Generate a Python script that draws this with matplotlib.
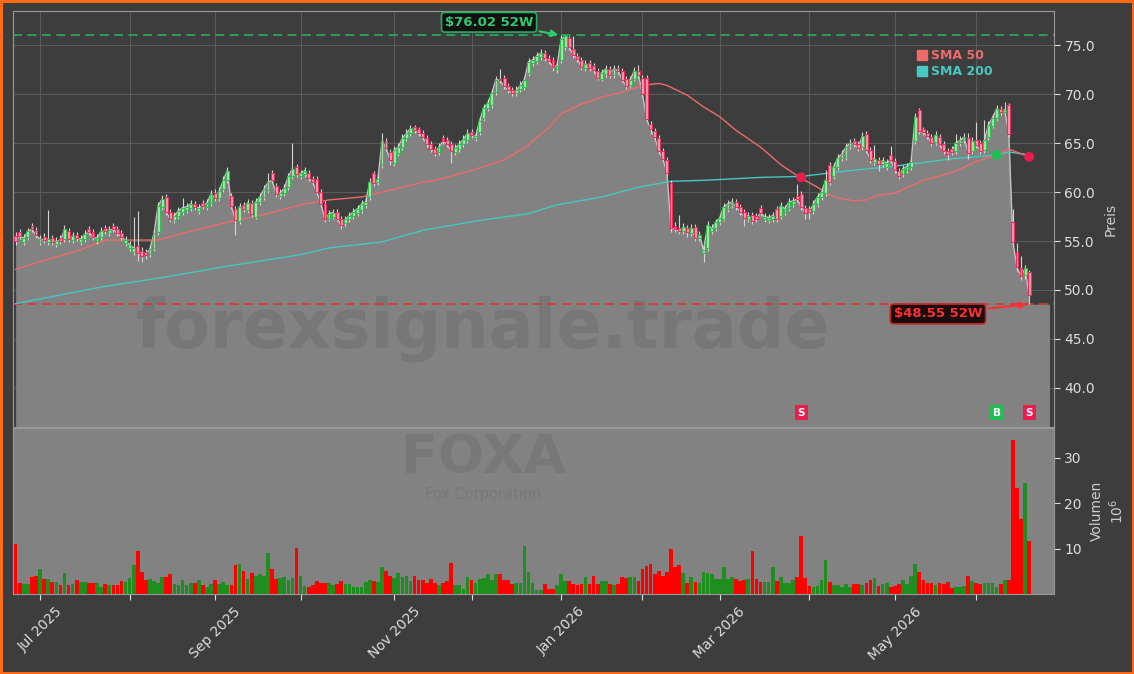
import numpy as np
import pandas as pd
import matplotlib
matplotlib.use("Agg")
import matplotlib.pyplot as plt
from matplotlib.lines import Line2D

# FOXA daily candles, Jun 23 2025 .. Jun 18 2026
closes = [
    55.0, 55.5, 55.3, 56.0, 56.2, 55.6, 55.2, 55.1, 55.2, 54.9,
    55.0, 55.0, 56.2, 55.2, 55.5, 55.3, 55.2, 55.7, 55.9, 55.4,
    55.3, 56.0, 56.0, 56.1, 56.2, 55.8, 55.4, 55.1, 54.6, 54.3,
    53.8, 53.5, 53.6, 54.2, 55.8, 58.6, 59.3, 58.0, 57.2, 57.6,
    58.1, 58.4, 58.5, 58.8, 58.5, 58.4, 58.6, 58.9, 59.8, 59.4,
    60.1, 61.2, 62.2, 58.6, 57.1, 58.5, 58.3, 58.9, 57.8, 59.0,
    59.5, 60.3, 61.0, 61.2, 59.8, 59.9, 60.4, 61.6, 62.4, 61.8,
    61.9, 62.2, 61.4, 61.0, 60.0, 58.8, 57.2, 57.8, 57.9, 57.3,
    56.6, 57.2, 57.6, 58.0, 58.3, 58.8, 59.0, 61.0, 60.9, 61.3,
    65.2, 64.5, 63.3, 64.3, 64.6, 65.5, 66.0, 66.5, 66.3, 66.0,
    65.6, 64.9, 64.4, 64.0, 64.6, 65.2, 64.9, 64.2, 64.5, 64.9,
    65.4, 66.0, 65.8, 65.7, 67.3, 68.6, 69.1, 70.1, 71.5, 71.4,
    70.8, 70.4, 70.1, 70.4, 70.9, 71.5, 73.3, 73.5, 73.9, 74.2,
    73.7, 73.4, 72.8, 72.9, 75.6, 75.9, 74.8, 74.0, 73.6, 72.8,
    73.1, 72.7, 72.5, 71.7, 72.2, 72.6, 72.0, 72.6, 72.4, 71.5,
    70.8, 71.5, 72.4, 72.0, 70.0, 67.5, 66.4, 65.6, 64.2, 63.4,
    62.0, 56.3, 56.2, 56.0, 56.4, 55.9, 56.3, 55.3, 55.6, 54.1,
    56.6, 56.3, 56.9, 57.4, 58.5, 58.8, 59.0, 58.5, 58.0, 57.4,
    57.6, 57.0, 57.2, 57.9, 57.5, 57.4, 57.6, 57.2, 58.6, 58.3,
    59.0, 59.1, 59.3, 58.5, 57.9, 58.0, 58.8, 59.5, 60.0, 61.2,
    61.0, 62.6, 63.5, 63.9, 64.6, 65.0, 64.9, 64.5, 65.7, 64.3,
    63.3, 63.4, 62.9, 63.2, 63.0, 63.3, 62.3, 61.6, 62.4, 62.6,
    63.1, 67.7, 66.2, 66.1, 65.7, 65.0, 65.8, 64.9, 64.2, 63.9,
    64.1, 65.0, 65.3, 65.6, 64.0, 65.2, 64.8, 64.2, 65.3, 66.9,
    67.6, 68.5, 68.2, 68.4, 65.9, 54.9, 52.3, 51.4, 52.2, 49.5,
]
opens = [
    55.5, 55.9, 54.9, 55.4, 56.5, 56.1, 54.9, 55.4, 54.9, 55.3,
    54.7, 55.3, 55.2, 56.0, 55.1, 55.6, 54.9, 55.2, 56.2, 55.9,
    55.0, 55.4, 56.3, 55.8, 56.5, 56.2, 55.8, 54.8, 54.3, 53.9,
    54.5, 54.0, 53.9, 53.7, 54.3, 55.9, 58.5, 59.5, 58.0, 57.1,
    57.6, 58.0, 58.2, 58.4, 58.8, 58.1, 58.9, 58.5, 58.9, 59.9,
    59.4, 60.3, 61.2, 59.6, 58.3, 57.0, 58.7, 58.2, 58.9, 57.5,
    59.0, 59.5, 60.2, 62.0, 60.6, 59.6, 59.9, 60.5, 61.6, 62.6,
    61.6, 61.8, 62.0, 61.3, 61.3, 60.0, 58.8, 57.3, 57.5, 58.0,
    57.3, 56.8, 57.2, 57.6, 57.9, 58.2, 58.7, 59.5, 61.9, 61.0,
    62.8, 65.2, 64.1, 63.0, 64.0, 64.6, 65.5, 66.0, 66.6, 66.4,
    66.0, 65.5, 64.9, 64.4, 64.1, 65.5, 65.3, 64.9, 64.1, 64.4,
    64.9, 65.3, 66.1, 65.5, 66.1, 67.6, 68.6, 68.9, 70.2, 71.6,
    71.7, 70.8, 70.4, 70.1, 70.5, 70.7, 72.2, 73.2, 73.4, 73.8,
    74.2, 73.7, 73.5, 72.6, 73.5, 74.8, 75.7, 74.6, 73.9, 73.5,
    72.7, 73.2, 72.9, 72.4, 71.6, 72.1, 72.6, 72.0, 72.7, 72.4,
    71.6, 70.9, 71.6, 72.4, 71.7, 71.7, 67.0, 66.2, 65.5, 64.2,
    63.3, 60.9, 56.5, 56.3, 56.0, 56.3, 55.8, 56.4, 55.3, 53.8,
    54.3, 56.0, 56.3, 56.9, 57.3, 58.3, 58.7, 59.0, 58.5, 58.0,
    57.2, 57.7, 57.6, 58.4, 57.2, 57.1, 57.2, 58.3, 57.6, 58.0,
    58.4, 58.8, 59.6, 59.8, 58.4, 58.3, 58.1, 58.8, 59.5, 59.9,
    62.8, 61.6, 62.6, 63.5, 63.6, 64.7, 65.2, 64.9, 64.6, 65.9,
    64.3, 63.1, 63.3, 62.9, 62.6, 63.8, 63.2, 62.2, 61.8, 62.3,
    62.6, 65.2, 68.4, 66.4, 66.0, 65.6, 65.1, 65.6, 64.9, 64.2,
    64.4, 64.2, 65.0, 65.3, 65.5, 64.2, 65.3, 65.0, 64.3, 65.6,
    66.8, 67.6, 68.5, 68.2, 68.9, 56.9, 53.9, 52.2, 51.5, 51.8,
]
highs = [
    55.9, 56.2, 55.7, 56.3, 56.8, 56.4, 55.6, 55.8, 58.2, 55.6,
    55.4, 55.6, 56.6, 56.3, 55.9, 55.9, 55.6, 56.1, 56.5, 56.2,
    55.7, 56.4, 56.6, 56.5, 56.8, 56.5, 56.1, 55.5, 55.0, 57.5,
    58.1, 54.4, 54.2, 54.6, 56.1, 59.0, 59.7, 59.8, 58.3, 58.0,
    58.5, 59.4, 58.9, 59.2, 59.1, 58.8, 59.2, 59.3, 60.2, 60.3,
    60.5, 61.6, 62.6, 59.9, 58.6, 58.9, 59.0, 59.3, 59.2, 59.4,
    59.9, 60.7, 62.0, 62.3, 60.9, 60.3, 60.8, 62.0, 65.0, 62.9,
    62.3, 62.6, 62.3, 61.6, 61.6, 60.3, 59.1, 58.2, 58.3, 58.3,
    57.6, 57.6, 58.0, 58.4, 58.7, 59.2, 59.4, 61.4, 62.2, 61.7,
    66.0, 65.5, 64.4, 64.7, 65.0, 65.9, 66.4, 66.9, 66.9, 66.7,
    66.3, 65.8, 65.2, 64.7, 65.0, 65.8, 65.6, 65.2, 64.9, 65.3,
    65.8, 66.4, 66.4, 66.1, 67.7, 69.0, 69.5, 70.5, 71.9, 72.6,
    72.0, 71.1, 70.7, 70.8, 71.3, 71.9, 73.7, 73.9, 74.3, 74.6,
    74.5, 74.0, 73.8, 73.3, 76.02, 76.0, 75.9, 75.9, 74.2, 73.8,
    73.5, 73.5, 73.2, 72.7, 72.6, 73.0, 72.9, 73.0, 73.0, 72.7,
    71.9, 71.9, 72.8, 73.0, 72.0, 72.0, 67.3, 66.5, 65.8, 64.5,
    63.6, 61.2, 56.9, 57.7, 56.8, 56.6, 56.7, 56.7, 56.0, 54.5,
    57.0, 56.7, 57.3, 57.8, 58.9, 59.2, 59.4, 59.3, 58.8, 58.3,
    58.0, 58.0, 57.9, 58.7, 57.9, 57.8, 58.0, 58.6, 59.0, 58.7,
    59.4, 59.5, 60.8, 60.1, 58.7, 58.6, 59.2, 59.9, 60.4, 62.3,
    63.1, 63.0, 63.9, 64.3, 65.0, 65.4, 65.5, 65.2, 66.1, 66.2,
    64.6, 64.8, 63.6, 63.6, 63.4, 64.7, 63.5, 62.5, 62.8, 63.0,
    63.5, 68.1, 68.6, 66.7, 66.3, 65.9, 66.2, 65.9, 65.2, 64.5,
    64.7, 65.9, 65.7, 66.0, 66.0, 65.6, 67.2, 65.3, 67.4, 67.3,
    68.0, 68.9, 68.8, 69.2, 69.1, 58.3, 54.8, 53.5, 52.6, 52.0,
]
lows = [
    54.6, 55.2, 54.6, 55.1, 55.9, 55.3, 54.6, 54.8, 54.6, 54.6,
    54.4, 54.7, 54.9, 54.9, 54.8, 55.0, 54.6, 54.9, 55.6, 55.1,
    54.7, 55.1, 55.7, 55.5, 55.9, 55.5, 55.1, 54.5, 54.0, 53.6,
    53.0, 52.9, 53.2, 53.4, 54.0, 55.6, 58.2, 57.7, 56.9, 56.8,
    57.3, 57.7, 57.9, 58.1, 58.2, 57.8, 58.3, 58.2, 58.6, 59.1,
    59.1, 60.0, 60.9, 58.3, 55.6, 56.7, 58.0, 57.9, 57.5, 57.2,
    58.7, 59.2, 59.9, 60.9, 59.5, 59.3, 59.6, 60.2, 61.3, 61.5,
    61.3, 61.5, 61.1, 60.7, 59.7, 58.5, 56.9, 57.0, 57.2, 57.0,
    56.2, 56.5, 56.9, 57.3, 57.6, 57.9, 58.4, 59.2, 60.6, 60.7,
    62.5, 64.2, 62.8, 62.7, 63.7, 64.3, 65.2, 65.7, 66.0, 65.7,
    65.3, 64.6, 64.1, 63.7, 63.8, 64.9, 64.6, 63.0, 63.8, 64.1,
    64.6, 65.0, 65.5, 65.2, 65.8, 67.3, 68.3, 68.6, 69.9, 71.1,
    70.5, 70.1, 69.8, 69.8, 70.2, 70.4, 71.9, 72.9, 73.1, 73.5,
    73.4, 73.1, 72.4, 72.2, 73.2, 74.5, 74.5, 73.7, 73.3, 72.5,
    72.4, 72.4, 72.2, 71.4, 71.3, 71.8, 71.7, 71.7, 72.1, 71.2,
    70.5, 70.6, 71.3, 71.7, 69.7, 67.2, 65.9, 65.3, 63.9, 63.1,
    61.7, 55.9, 55.9, 55.7, 55.7, 55.4, 55.5, 55.0, 55.0, 52.9,
    54.0, 55.7, 56.0, 56.6, 57.0, 58.0, 58.4, 58.2, 57.7, 56.5,
    56.9, 56.7, 56.9, 57.6, 56.9, 56.8, 56.9, 56.9, 57.3, 57.7,
    58.1, 58.5, 59.0, 58.2, 57.3, 57.3, 57.8, 58.5, 59.2, 59.6,
    60.7, 61.3, 62.3, 63.2, 63.3, 64.4, 64.6, 64.2, 64.3, 64.0,
    63.0, 62.8, 62.2, 62.6, 62.3, 63.0, 62.0, 61.3, 61.5, 62.0,
    62.3, 64.9, 65.9, 65.8, 65.4, 64.7, 64.8, 64.6, 63.9, 63.3,
    63.8, 63.9, 64.7, 65.0, 63.4, 63.9, 64.5, 63.9, 64.0, 65.3,
    66.5, 67.3, 67.9, 67.9, 65.6, 54.5, 51.9, 51.0, 51.1, 48.55,
]
# volume in millions
volumes = [
    11.0, 2.4, 2.2, 2.2, 3.7, 3.9, 5.4, 3.4, 3.3, 2.7,
    2.7, 1.9, 4.7, 2.0, 2.2, 3.1, 2.6, 2.6, 2.4, 2.4,
    2.4, 1.6, 2.2, 2.0, 2.0, 2.0, 2.9, 2.6, 3.6, 6.3,
    9.4, 4.9, 3.1, 3.4, 2.9, 2.5, 3.8, 3.8, 4.3, 2.2,
    1.9, 3.1, 1.9, 2.4, 2.4, 3.1, 1.9, 1.6, 2.2, 3.1,
    2.2, 2.7, 1.9, 1.9, 6.3, 6.5, 5.1, 3.4, 4.6, 3.9,
    4.4, 4.0, 9.0, 5.6, 3.4, 3.6, 3.8, 3.1, 3.6, 10.1,
    4.0, 1.8, 1.6, 1.9, 2.9, 2.5, 2.4, 2.5, 1.9, 2.2,
    2.9, 2.2, 2.2, 1.5, 1.6, 1.6, 2.7, 3.1, 2.8, 2.7,
    6.0, 5.1, 4.0, 3.6, 4.7, 3.7, 3.9, 2.8, 3.9, 3.1,
    3.1, 2.5, 3.4, 2.5, 1.9, 2.5, 2.8, 6.9, 2.0, 1.9,
    1.0, 3.8, 3.1, 2.5, 3.4, 3.6, 4.3, 3.0, 4.5, 4.3,
    3.1, 3.1, 2.2, 2.4, 2.4, 10.5, 4.9, 2.5, 0.8, 0.9,
    2.2, 1.0, 1.0, 2.0, 4.3, 2.9, 2.9, 2.2, 2.0, 2.2,
    3.8, 2.2, 4.0, 2.1, 2.9, 2.9, 2.2, 1.9, 2.1, 3.8,
    3.6, 3.8, 3.7, 2.9, 5.4, 6.1, 6.5, 4.5, 5.1, 4.0,
    4.9, 9.9, 5.9, 6.3, 4.6, 2.5, 3.8, 2.7, 2.4, 4.9,
    4.6, 4.5, 3.3, 3.4, 6.0, 3.3, 3.8, 3.3, 2.8, 3.1,
    3.4, 9.4, 3.4, 2.7, 2.7, 2.7, 6.0, 2.9, 3.8, 2.5,
    2.5, 3.1, 3.8, 12.8, 3.6, 1.8, 1.6, 1.8, 3.1, 7.4,
    2.7, 1.9, 2.0, 1.6, 2.2, 1.6, 2.2, 2.2, 1.9, 2.4,
    3.1, 3.6, 1.8, 2.1, 2.4, 1.6, 1.8, 2.1, 3.1, 2.2,
    4.0, 6.5, 4.9, 3.1, 2.4, 2.5, 2.0, 2.5, 2.2, 2.6,
    1.3, 1.6, 1.6, 1.8, 4.0, 2.8, 2.5, 2.2, 2.4, 2.4,
    2.5, 1.6, 2.2, 3.1, 3.1, 33.9, 23.3, 16.6, 24.4, 11.6,
]

# moving averages read at selected candles
sma50_idx = [0, 6, 16, 22, 28, 35, 43, 53, 62, 70, 77, 85, 92, 100, 103, 112,
             120, 125, 131, 134, 139, 144, 149, 154, 158, 160, 165, 169, 173,
             177, 183, 188, 193, 197, 199, 202, 206, 209, 212, 216, 223, 230,
             236, 241, 244, 249]
sma50_val = [52.1, 52.9, 54.1, 55.1, 55.1, 55.1, 56.0, 57.0, 57.8, 58.7, 59.2,
             59.5, 60.2, 61.0, 61.2, 62.2, 63.3, 64.5, 66.6, 68.0, 69.0, 69.7,
             70.2, 70.9, 71.1, 70.9, 69.9, 68.7, 67.7, 66.3, 64.6, 62.8, 61.4,
             60.5, 59.9, 59.4, 59.1, 59.2, 59.7, 59.9, 61.2, 62.0, 63.1, 63.8,
             64.4, 63.6]
sma200_idx = [0, 21, 35, 53, 70, 77, 90, 100, 114, 126, 133, 144, 153, 161,
              169, 183, 193, 205, 215, 230, 241, 244, 249]
sma200_val = [48.6, 50.3, 51.2, 52.5, 53.6, 54.3, 54.9, 56.1, 57.1, 57.8, 58.7,
              59.5, 60.5, 61.1, 61.2, 61.5, 61.6, 62.2, 62.6, 63.4, 63.8, 64.1,
              63.8]

# crossover signals
sig_idx = [193, 241, 249]
sig_type = ["S", "B", "S"]
sig_price = [61.5, 63.8, 63.6]

holidays = ["2025-07-04", "2025-09-01", "2025-11-27", "2025-12-25", "2026-01-01",
            "2026-01-19", "2026-02-16", "2026-04-03", "2026-05-25"]

dates = pd.bdate_range("2025-06-23", "2026-06-18")
dates = dates[~dates.isin(pd.to_datetime(holidays))]

o = np.array(opens)
c = np.array(closes)
h = np.array(highs)
l = np.array(lows)
v = np.array(volumes)
x = np.arange(len(c))
up = c >= o

hi52 = h.max()
lo52 = l.min()
ihi = int(h.argmax())
ilo = int(l.argmin())

BG = "#3d3d3d"
FILL = "#828282"
TXT = "#dddddd"
C50 = "#f06a6a"
C200 = "#45c9c0"

fig = plt.figure(figsize=(11.34, 6.74), dpi=100, facecolor=BG,
                 edgecolor="#ff6a13", linewidth=2.5)
ax = fig.add_axes([13 / 1134, 1 - 427 / 674, 1041 / 1134, 416 / 674])
axv = fig.add_axes([13 / 1134, 1 - 594 / 674, 1041 / 1134, 166 / 674], sharex=ax)

ymin, ymax = 36.0, 78.5
ax.set_facecolor(BG)
ax.set_xlim(-0.65, len(c) + 5.1)
ax.set_ylim(ymin, ymax)

# grey area under the close
xf = np.r_[x, x[-1], len(c) + 4]
yf = np.r_[c, lo52, lo52]
ax.fill_between(xf, yf, ymin - 5, color=FILL, lw=0, zorder=1)
ax.plot(x, c, color="#c4c4c4", lw=1, zorder=2)

ax.text(0.452, 0.235, "forexsignale.trade", transform=ax.transAxes,
        ha="center", va="center", fontsize=48, fontweight="bold",
        color="#6a6a6a", alpha=0.45, zorder=1.5)

ax.plot(sma200_idx, sma200_val, color=C200, lw=1, zorder=3)
ax.plot(sma50_idx, sma50_val, color=C50, lw=1, zorder=3)

# candles
ax.vlines(x, l, h, color="#d4d4d4", lw=0.8, zorder=4)
body = np.where(np.abs(c - o) < 0.12, 0.12, c - o)
ax.bar(x[up], body[up], bottom=o[up], width=0.7, color="#a4e8a4",
       edgecolor="#2fbf4f", lw=0.8, zorder=5)
ax.bar(x[~up], body[~up], bottom=o[~up], width=0.7, color="#f59cb2",
       edgecolor="#ee2d5a", lw=0.8, zorder=5)

ax.axhline(hi52, color="#2ea35a", ls=(0, (5, 3)), lw=1.3, zorder=2.5)
ax.axhline(lo52, color="#d63a3a", ls=(0, (5, 3)), lw=1.3, zorder=2.5)

ax.annotate(f"\\${hi52:.2f} 52W", xy=(ihi, hi52), xytext=(116.3, 77.35),
            ha="center", va="center", color="#2ecc71", fontsize=9.5,
            fontweight="bold", zorder=8,
            bbox=dict(boxstyle="round,pad=0.25", fc="#101010", ec="#27ae60", lw=1.2),
            arrowprops=dict(arrowstyle="-|>", color="#2ecc71", lw=1.5,
                            mutation_scale=10))
ax.annotate(f"\\${lo52:.2f} 52W", xy=(ilo, lo52), xytext=(226.6, 47.55),
            ha="center", va="center", color="#ff3030", fontsize=9.5,
            fontweight="bold", zorder=8,
            bbox=dict(boxstyle="round,pad=0.25", fc="#180c0c", ec="#c42020", lw=1.2),
            arrowprops=dict(arrowstyle="-|>", color="#ff3030", lw=1.5,
                            mutation_scale=10))

sig_col = {"S": "#ec1c4f", "B": "#1dbf55"}
ax.scatter(sig_idx, sig_price, s=36, c=[sig_col[t] for t in sig_type], zorder=7)
for i, t in zip(sig_idx, sig_type):
    ax.text(i, 37.45, t, ha="center", va="center", color="white", fontsize=7.5,
            fontweight="bold", zorder=8,
            bbox=dict(boxstyle="square,pad=0.25", fc=sig_col[t], ec="none"))

handles = [Line2D([0], [0], marker="s", ls="", color=C50, markersize=7),
           Line2D([0], [0], marker="s", ls="", color=C200, markersize=7)]
ax.legend(handles, ["SMA 50", "SMA 200"], loc="upper right",
          bbox_to_anchor=(0.946, 0.92), frameon=False,
          prop={"weight": "bold", "size": 9}, labelcolor=[C50, C200],
          handletextpad=0.3, handlelength=0.8, labelspacing=0.25, borderaxespad=0)

ax.grid(True, color="#5a5a5a", lw=0.8, zorder=0)
ax.set_axisbelow(True)
ax.yaxis.tick_right()
ax.yaxis.set_label_position("right")
ax.set_yticks([40, 45, 50, 55, 60, 65, 70, 75])
ax.yaxis.set_major_formatter(plt.FormatStrFormatter("%.1f"))
ax.set_ylabel("Preis", color="#cccccc", fontsize=10, labelpad=6)
ax.tick_params(axis="y", colors=TXT, labelsize=10, length=4)
ax.tick_params(axis="x", labelbottom=False, length=0)
for s in ax.spines.values():
    s.set_color("#9a9a9a")

# volume panel
axv.set_facecolor(FILL)
axv.bar(x, v, width=0.9, color=np.where(up, "#1e8e1e", "#ff0000"), lw=0, zorder=3)
axv.set_ylim(0, 36.5)
axv.text(0.4515, 0.815, "FOXA", transform=axv.transAxes, ha="center", va="center",
         fontsize=39, fontweight="bold", color="#6e6e6e", alpha=0.45, zorder=1)
axv.text(0.4515, 0.6, "Fox Corporation", transform=axv.transAxes, ha="center",
         va="center", fontsize=10.5, color="#6e6e6e", alpha=0.45, zorder=1)
axv.yaxis.tick_right()
axv.yaxis.set_label_position("right")
axv.set_yticks([10, 20, 30])
axv.set_ylabel("Volumen\n$10^6$", color="#cccccc", fontsize=10, labelpad=6)
axv.tick_params(axis="y", colors=TXT, labelsize=10, length=4)
for s in axv.spines.values():
    s.set_color("#9a9a9a")

# month ticks at first trading day, labels every other month
months = pd.Series(x, index=dates)
first = months.groupby([dates.year, dates.month]).min()
tick_pos = list(first.values[1:])
tick_lab = [dates[p].strftime("%b %Y") if dates[p].month % 2 == 1 else ""
            for p in tick_pos]
axv.set_xticks(tick_pos)
axv.set_xticklabels(tick_lab, rotation=45, ha="center")
axv.tick_params(axis="x", colors=TXT, labelsize=10, length=4)
ax.set_xticks(tick_pos)

fig.savefig("out.png", dpi=100, facecolor=fig.get_facecolor(),
            edgecolor=fig.get_edgecolor())
